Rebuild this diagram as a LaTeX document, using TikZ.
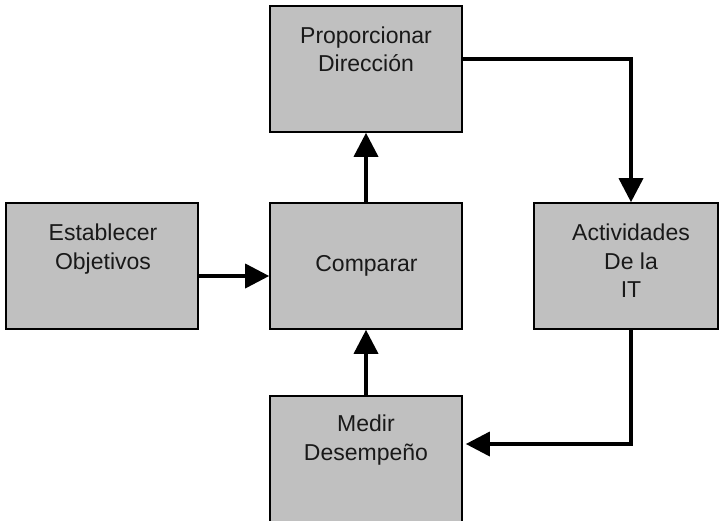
\documentclass[tikz,border=0pt]{standalone}
\usepackage{fontspec}
\setmainfont{Liberation Sans}
\usetikzlibrary{arrows.meta}
\begin{document}
\begin{tikzpicture}[x=1pt,y=-1pt,
  block/.style={draw=black, line width=1.6pt, fill=boxgray, inner sep=0pt,
    minimum width=192pt, minimum height=126pt},
  caption/.style={align=center, inner sep=0pt, anchor=north,
    font=\fontsize{23}{28.5}\selectfont, text=black!90},
  flow/.style={line width=3.6pt, -{Triangle[length=24pt,width=24pt]}},
  plain/.style={line width=3.6pt}]
\definecolor{boxgray}{HTML}{C0C0C0}
\clip (0,0) rectangle (719,520);
\fill[white] (0,0) rectangle (719,520);

% blocks
\node[block] (dir) at (366,69) {};
\node[block] (obj) at (102,266) {};
\node[block] (cmp) at (366,266) {};
\node[block, minimum width=184pt] (act) at (626,266) {};
\node[block] (med) at (366,459) {};

% captions
\node[caption] (dirt) at (366,26.5) {Proporcionar\\Dirección};
\node[caption] (objt) at (103,224) {Establecer\\Objetivos};
\node[caption] (cmpt) at (366.5,255) {Comparar};
\node[caption] (actt) at (631,224) {Actividades\\De la\\IT};
\node[caption] (medt) at (366,415) {Medir\\Desempeño};

% connectors
\coordinate (c1) at (631,59);
\coordinate (c2) at (631,444);
\draw[flow] (obj.east |- 0,276) -- (cmp.west |- 0,276);
\draw[flow] (cmp.north) -- (dir.south);
\draw[flow] (med.north) -- (cmp.south);
\draw[flow, rounded corners=0pt] (dir.east |- c1) -- (c1) -- (act.north -| c1);
\draw[flow] (act.south -| c2) -- (c2) -- ([xshift=3pt]med.east |- c2);
\end{tikzpicture}
\end{document}
